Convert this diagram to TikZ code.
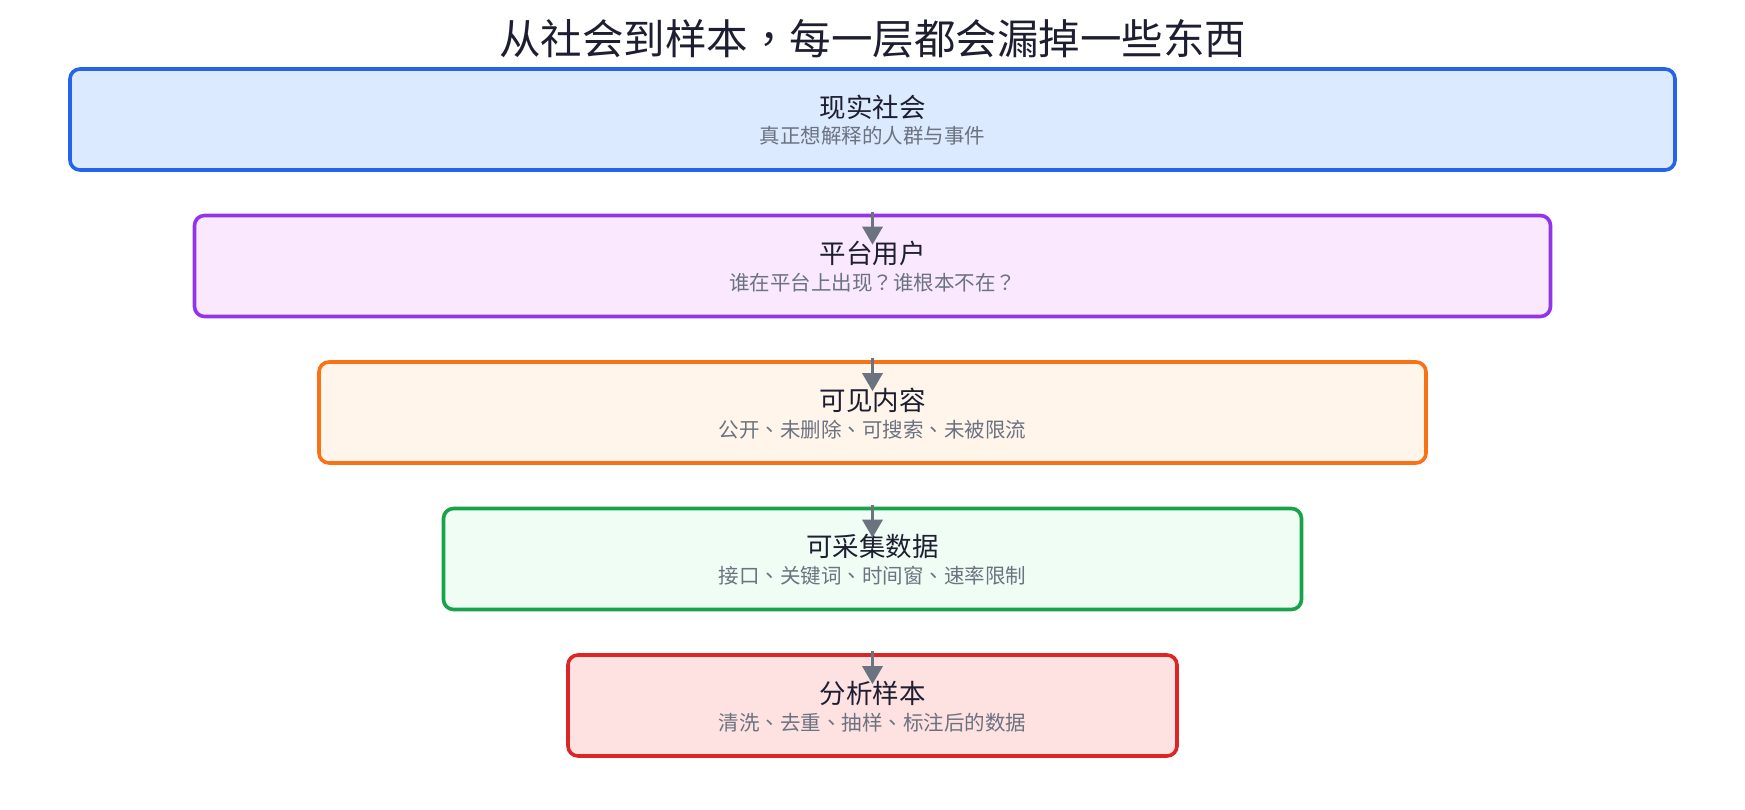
\documentclass[tikz,border=0pt]{standalone}
\usepackage{fontspec}
\setmainfont{Noto Sans CJK SC}
\newfontfamily\tcf{Noto Sans CJK TC}
\newcommand{\pq}{{\tcf ？}}
\newcommand{\pd}{{\tcf 、}}
\newcommand{\pc}{{\tcf ，}}
\usetikzlibrary{arrows.meta}
\definecolor{ink}{HTML}{1E1E32}
\definecolor{sub}{HTML}{6B7280}
\definecolor{arrc}{HTML}{6B7280}
\definecolor{s1}{HTML}{2563EB}\definecolor{f1}{HTML}{DBEAFE}
\definecolor{s2}{HTML}{9333EA}\definecolor{f2}{HTML}{FAE8FF}
\definecolor{s3}{HTML}{F97316}\definecolor{f3}{HTML}{FFF5EB}
\definecolor{s4}{HTML}{16A34A}\definecolor{f4}{HTML}{F0FDF4}
\definecolor{s5}{HTML}{DC2626}\definecolor{f5}{HTML}{FEE2E2}
\tikzset{
  layerbox/.style={draw=#1, line width=3.6pt, rounded corners=10pt, minimum height=101pt, inner sep=0pt},
  ttl/.style={text=ink, font=\fontsize{26.5}{30}\selectfont, inner sep=0pt},
  subt/.style={text=sub, font=\fontsize{20.5}{24}\selectfont, inner sep=0pt},
  arr/.style={draw=arrc, line width=3.2pt, -{Triangle[length=18pt,width=20pt]}},
}
\begin{document}
\begin{tikzpicture}[x=1pt,y=-1pt]
\useasboundingbox (0,0) rectangle (1745,810);
\node[text=ink, font=\fontsize{41.5}{46}\selectfont, inner sep=0pt] (title) at (872.5,39) {从社会到样本\pc 每一层都会漏掉一些东西};

\node[layerbox=s1, fill=f1, minimum width=1605pt] (b1) at (872.5,119.5) {};
\node[layerbox=s2, fill=f2, minimum width=1356pt] (b2) at (872.5,266) {};
\node[layerbox=s3, fill=f3, minimum width=1107pt] (b3) at (872.5,412.5) {};
\node[layerbox=s4, fill=f4, minimum width=858pt] (b4) at (872.5,559) {};
\node[layerbox=s5, fill=f5, minimum width=609pt] (b5) at (872.5,705.5) {};

\node[ttl] (t1) at ([yshift=-40pt]b1.north) {现实社会};
\node[subt] (u1) at ([yshift=-69pt]b1.north) {真正想解释的人群与事件};
\node[ttl] (t2) at ([yshift=-40pt]b2.north) {平台用户};
\node[subt] (u2) at ([yshift=-69pt]b2.north) {谁在平台上出现\pq 谁根本不在\pq};
\node[ttl] (t3) at ([yshift=-40pt]b3.north) {可见内容};
\node[subt] (u3) at ([yshift=-69pt]b3.north) {公开\pd 未删除\pd 可搜索\pd 未被限流};
\node[ttl] (t4) at ([yshift=-40pt]b4.north) {可采集数据};
\node[subt] (u4) at ([yshift=-69pt]b4.north) {接口\pd 关键词\pd 时间窗\pd 速率限制};
\node[ttl] (t5) at ([yshift=-40pt]b5.north) {分析样本};
\node[subt] (u5) at ([yshift=-69pt]b5.north) {清洗\pd 去重\pd 抽样\pd 标注后的数据};

\draw[arr] ([yshift=-40pt]b1.south) -- ([yshift=-31pt]b2.north);
\draw[arr] ([yshift=-40pt]b2.south) -- ([yshift=-31pt]b3.north);
\draw[arr] ([yshift=-40pt]b3.south) -- ([yshift=-31pt]b4.north);
\draw[arr] ([yshift=-40pt]b4.south) -- ([yshift=-31pt]b5.north);
\end{tikzpicture}
\end{document}
